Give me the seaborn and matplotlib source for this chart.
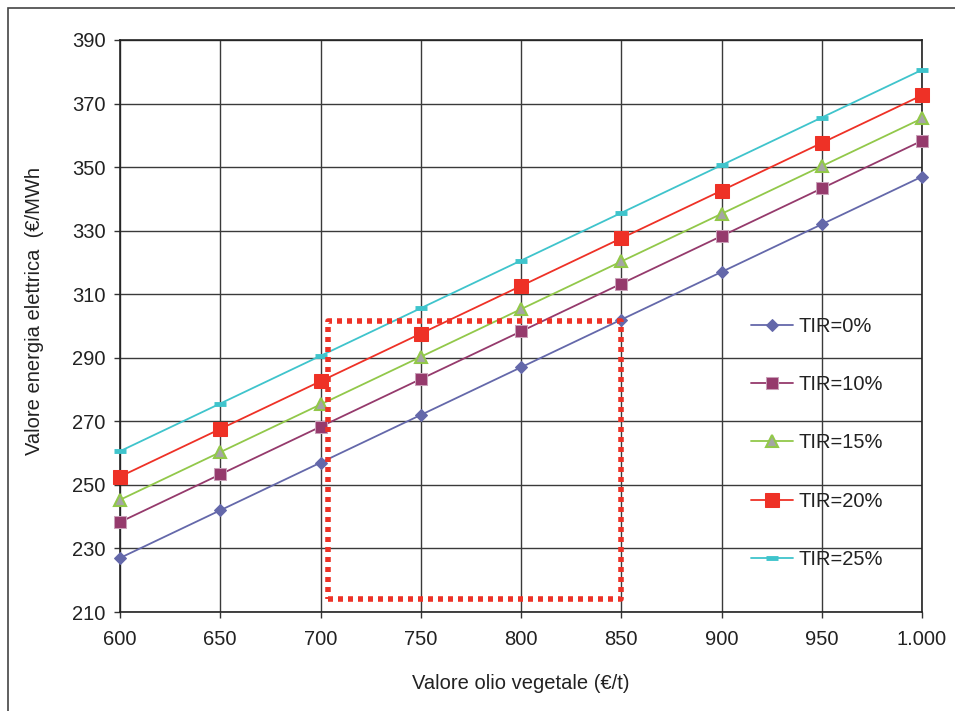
import matplotlib
matplotlib.use("Agg")
import matplotlib.pyplot as plt
import seaborn as sns
import pandas as pd
from matplotlib.patches import Rectangle

# ---- data ----
olio = [600, 650, 700, 750, 800, 850, 900, 950, 1000]
tir0 = [227, 242, 257, 272, 287, 302, 317, 332, 347]
tir10 = [238.3, 253.3, 268.3, 283.3, 298.3, 313.3, 328.3, 343.3, 358.3]
tir15 = [245.3, 260.3, 275.3, 290.3, 305.3, 320.3, 335.3, 350.3, 365.3]
tir20 = [252.6, 267.6, 282.6, 297.6, 312.6, 327.6, 342.6, 357.6, 372.6]
tir25 = [260.6, 275.6, 290.6, 305.6, 320.6, 335.6, 350.6, 365.6, 380.6]
labels = ["TIR=0%", "TIR=10%", "TIR=15%", "TIR=20%", "TIR=25%"]
x_ticks = [600, 650, 700, 750, 800, 850, 900, 950, 1000]
x_ticklabels = ["600", "650", "700", "750", "800", "850", "900", "950", "1.000"]
y_ticks = [210, 230, 250, 270, 290, 310, 330, 350, 370, 390]
rect_x = [703.5, 850, 850, 703.5, 703.5]
rect_y = [214, 214, 301.6, 301.6, 214]

sns.set_theme(style="white")
plt.rcParams['font.family'] = ['Liberation Sans', 'DejaVu Sans']

FS = 14.5
fig = plt.figure(figsize=(9.55, 7.11), dpi=100)
ax = fig.add_axes([120/955, 1-612/711, 802/955, 572/711])

# figure frame
fig.patches.append(Rectangle((8/955, -0.05), 1.2, 1-8/711+0.05, transform=fig.transFigure,
                             fill=False, edgecolor="#444444", linewidth=1.2, zorder=0))

styles = [
    dict(marker="D", color="#6468AA", markerfacecolor="#6468AA", markeredgecolor="#6468AA", markersize=6.5),
    dict(marker="s", color="#953A6C", markerfacecolor="#953A6C", markeredgecolor="#C9A0B8", markersize=8),
    dict(marker="^", color="#92C84A", markerfacecolor="#A5A5A5", markeredgecolor="#92C84A", markersize=8.5, markeredgewidth=1.5),
    dict(marker="s", color="#EE3126", markerfacecolor="#EE3126", markeredgecolor="#EE3126", markersize=9.5),
    dict(marker="_", color="#3FC4CC", markerfacecolor="#3FC4CC", markeredgecolor="#3FC4CC", markersize=9, markeredgewidth=3.5),
]
series = [tir0, tir10, tir15, tir20, tir25]
for vals, lab, st in zip(series, labels, styles):
    df = pd.DataFrame({"x": olio, "y": vals})
    sns.lineplot(data=df, x="x", y="y", ax=ax, label=lab, linewidth=1.3, zorder=3,
                 clip_on=False, **st)

# red dotted rectangle
ax.plot(rect_x, rect_y, color="#EE3126", linewidth=4, linestyle=(0, (0.9, 0.9)),
        solid_capstyle="butt", dash_capstyle="butt", zorder=4)

ax.set_xlim(600, 1000)
ax.set_ylim(210, 390)
ax.set_xticks(x_ticks)
ax.set_xticklabels(x_ticklabels)
ax.set_yticks(y_ticks)
ax.grid(True, color="#3a3a3a", linewidth=1.0)
ax.set_axisbelow(True)
for s in ax.spines.values():
    s.set_color("#222222")
    s.set_linewidth(1.2)
ax.tick_params(axis="both", which="both", direction="out", length=4, width=1, color="#333333",
               labelsize=FS, labelcolor="#222222", bottom=True, left=True)
ax.tick_params(axis="x", pad=9)
ax.tick_params(axis="y", pad=6.5)
ax.set_xlabel("Valore olio vegetale (€/t)", fontsize=FS, color="#222222")
ax.set_ylabel("Valore energia elettrica  (€/MWh", fontsize=FS, color="#222222")
ax.xaxis.set_label_coords(0.5, (612-674)/572)
ax.yaxis.set_label_coords((44-120)/802, (612-311)/572)

leg = ax.legend(loc="center left", bbox_to_anchor=((751-120)/802, (612-443)/572), frameon=False,
                fontsize=FS, labelspacing=1.95, handlelength=2.1, handletextpad=0.25, borderpad=0,
                borderaxespad=0)
for t in leg.get_texts():
    t.set_color("#222222")

fig.savefig("out.png", dpi=100)
